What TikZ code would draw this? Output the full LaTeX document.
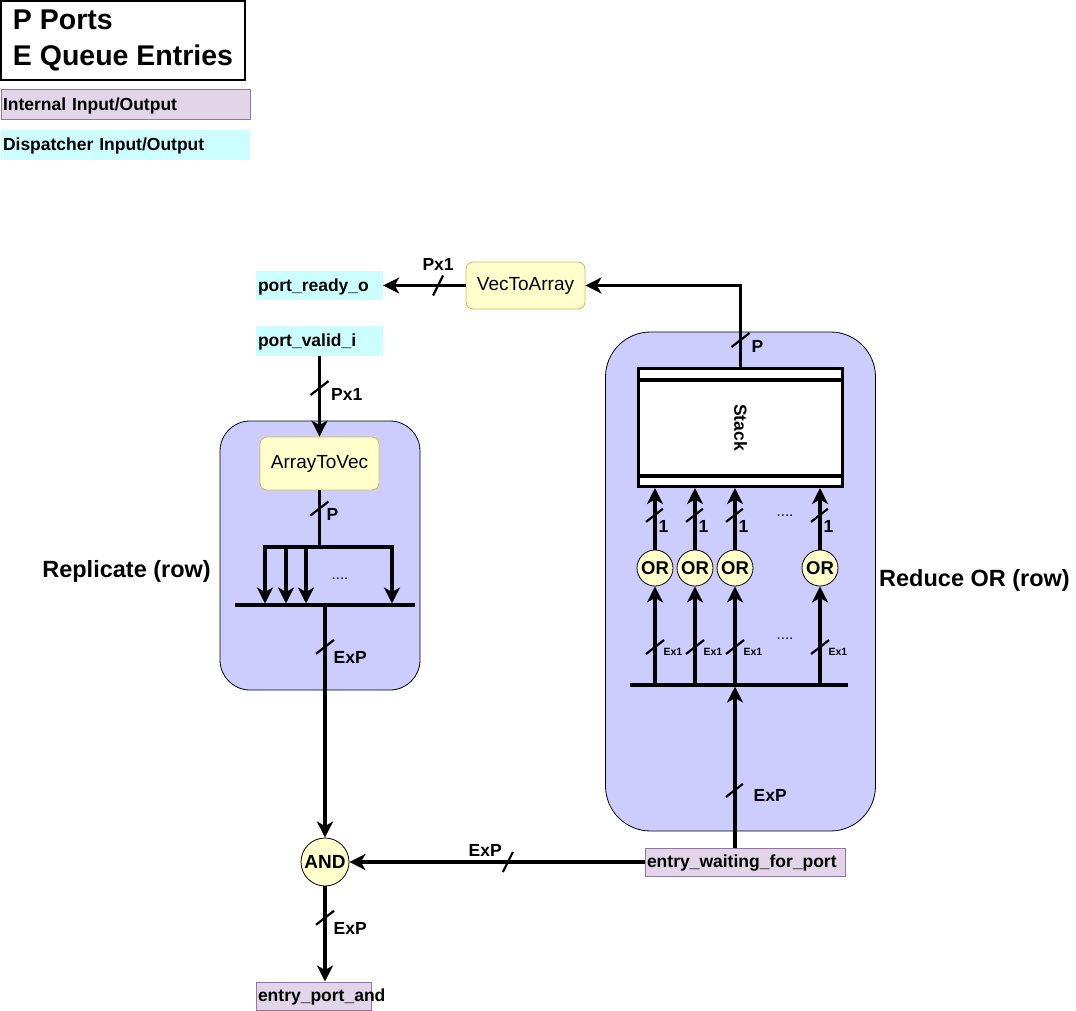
\documentclass[tikz,border=0pt]{standalone}
\usepackage{fontspec}
\setmainfont{Liberation Sans}
\usetikzlibrary{arrows.meta,positioning}

\definecolor{intfill}{HTML}{E1D5E7}
\definecolor{intline}{HTML}{9673A6}
\definecolor{dspfill}{HTML}{CCFFFF}
\definecolor{blkfill}{HTML}{CCCCFF}
\definecolor{cnvfill}{HTML}{FFFFCC}
\definecolor{cnvline}{HTML}{D6B656}

\newcommand{\sigfont}{\fontsize{17.5}{21}\selectfont\bfseries}
\newcommand{\cnvfont}{\fontsize{19}{23}\selectfont}
\newcommand{\gatefont}{\fontsize{18.5}{22}\selectfont\bfseries}
\newcommand{\ttlfont}{\fontsize{23.5}{28}\selectfont\bfseries}
\newcommand{\legfont}{\fontsize{28.5}{36}\selectfont\bfseries}
\newcommand{\widfont}{\fontsize{10.5}{12}\selectfont\bfseries}

\tikzset{
  iobox/.style={font=\sigfont, inner xsep=2pt, inner ysep=0pt, align=left,
    text height=14pt, text depth=3pt},
  internal/.style={iobox, draw=intline, fill=intfill, line width=1pt},
  dispatch/.style={iobox, fill=dspfill},
  convbox/.style={draw=cnvline, fill=cnvfill, rounded corners=7pt, font=\cnvfont,
    minimum width=119pt, line width=0.8pt},
  block/.style={draw=black, fill=blkfill, line width=0.8pt},
  gate/.style={circle, draw=black, fill=cnvfill, inner sep=0pt, line width=0.8pt, font=\gatefont},
  bus/.style={line width=3.2pt, -{Stealth[length=16pt,width=16pt,inset=4.5pt]}},
  wire/.style={line width=3.2pt},
  lbl/.style={font=\sigfont, inner sep=0pt},
  dots/.style={font=\fontsize{15}{18}\selectfont, inner sep=0pt},
  vslash/.pic={\draw[-, line width=2.2pt] (-9,7) -- (9,-7);},
  hslash/.pic={\draw[-, line width=2.2pt] (-5,10) -- (5,-10);},
}

\begin{document}
\begin{tikzpicture}[x=1pt,y=-1pt]
  \useasboundingbox (0,0) rectangle (1076,1011);

  % legend
  \node[draw, line width=1.2pt, font=\legfont, minimum width=244pt, minimum height=79pt,
    align=left] (legend) at (123,40.5) {\raisebox{-2.5pt}{P Ports}\\\raisebox{-2.5pt}{E Queue Entries}};
  \node[internal, text width=245pt, minimum height=30pt] (lgint) at (125.5,105) {Internal Input/Output};
  \node[dispatch, text width=245pt, minimum height=30pt] (lgdsp) at (125.5,145) {Dispatcher Input/Output};

  % blocks
  \node[block, rounded corners=30pt, minimum width=200pt, minimum height=269pt] (repl) at (320,555.5) {};
  \node[block, rounded corners=45pt, minimum width=270pt, minimum height=499pt] (redor) at (740.5,581.5) {};
  \node[font=\ttlfont, anchor=east, inner sep=0pt] (repllbl) at (211,571) {Replicate (row)};
  \node[font=\ttlfont, anchor=west, inner sep=0pt] (redlbl) at (879,580) {Reduce OR (row)};

  % signals
  \node[dispatch, text width=123pt, minimum height=29pt] (prdy) at (319.5,285.5) {port\_ready\_o};
  \node[dispatch, text width=123pt, minimum height=30pt] (pvld) at (319.5,340.5) {port\_valid\_i};
  \node[internal, text width=196pt, minimum height=28pt] (ewait) at (745,862) {entry\_waiting\_for\_port};
  \node[internal, text width=111pt, minimum height=28pt] (eand) at (313.5,996) {entry\_port\_and};

  \node[convbox, minimum height=47pt] (v2a) at (525.5,285.5) {VecToArray};
  \node[convbox, minimum height=53pt] (a2v) at (319.5,463.5) {ArrayToVec};

  % stack
  \node[draw, fill=white, line width=3.2pt, outer sep=0pt, minimum width=204pt, minimum height=118pt,
    label={[font=\sigfont, rotate=-90]center:Stack}] (stack) at (740.5,427.5) {};
  \draw[wire] ([yshift=-11.5pt]stack.north west) -- ([yshift=-11.5pt]stack.north east);
  \draw[wire] ([yshift=10.5pt]stack.south west) -- ([yshift=10.5pt]stack.south east);

  % gates
  \foreach \x [count=\i] in {655,695,735,820}
    \node[gate, minimum size=36pt] (or\i) at (\x,568) {OR};
  \node[gate, minimum size=48pt, font=\fontsize{19}{22}\selectfont\bfseries] (andg) at (325,862) {AND};

  % bars
  \coordinate (rbarL) at (235,605);
  \coordinate (rbarR) at (415,605);
  \coordinate (rbarM) at (325,605);
  \draw[wire] (rbarL) -- (rbarR);
  \coordinate (obarL) at (630,685);
  \coordinate (obarR) at (848,685);
  \coordinate (obarM) at (735,685);
  \draw[wire] (obarL) -- (obarR);

  % replicate fan out
  \coordinate (fanC) at (319.5,547);
  \foreach \x [count=\i] in {265,286,306,392}
    \coordinate (fan\i) at (\x,547);
  \draw[wire] (a2v.south) -- (fanC) pic[pos=.32]{vslash} node[lbl, pos=.42, anchor=west, xshift=5.5pt]{P};
  \draw[wire, line cap=rect] (fan1) -- (fan4);
  \foreach \i in {1,...,4}
    \draw[bus, shorten >=1.5pt] (fan\i) -- (fan\i |- rbarL);
  \node[dots] (repdots) at (340,579) {....};

  % connectors
  \draw[bus] (v2a.west) -- (prdy.east) pic[pos=.334]{hslash} node[lbl, pos=.334, above=13.5pt]{Px1};
  \coordinate (stkturn) at (stack.north |- v2a.east);
  \draw[bus] (stack.north) -- (stkturn) pic[pos=.343]{vslash} node[lbl, pos=.27, anchor=west, xshift=9.5pt]{P}
    -- (v2a.east);
  \draw[bus] (pvld.south) -- (a2v.north) pic[pos=.4]{vslash} node[lbl, pos=.485, anchor=west, xshift=10pt]{Px1};
  \draw[bus] (rbarM) -- (andg.north) pic[pos=.18]{vslash} node[lbl, pos=.224, anchor=west, xshift=7pt]{ExP};
  \draw[bus] (ewait.west) -- (andg.east) pic[pos=.463]{hslash} node[lbl, pos=.54, above=4pt]{ExP};
  \draw[bus] (andg.south) -- (andg.south |- eand.north) pic[pos=.33]{vslash} node[lbl, pos=.44, anchor=west, xshift=7pt]{ExP};
  \draw[bus, shorten >=1.5pt] (ewait.north -| obarM) -- (obarM) pic[pos=.354]{vslash} node[lbl, pos=.32, anchor=west, xshift=17pt]{ExP};

  % reduce or columns
  \foreach \i in {1,...,4} {
    \draw[bus] (or\i |- obarL) -- (or\i.south) pic[pos=.385]{vslash}
      node[font=\widfont, inner sep=0pt, pos=.335, anchor=west, xshift=7pt]{Ex1};
    \draw[bus, shorten >=1.5pt] (or\i.north) -- (or\i |- stack.south) pic[pos=.55]{vslash}
      node[lbl, pos=.36, anchor=west, xshift=2pt]{1};
  }
  \node[dots] (stkdots) at (785,516) {....};
  \node[dots] (ordots) at (785,639) {....};
\end{tikzpicture}
\end{document}
